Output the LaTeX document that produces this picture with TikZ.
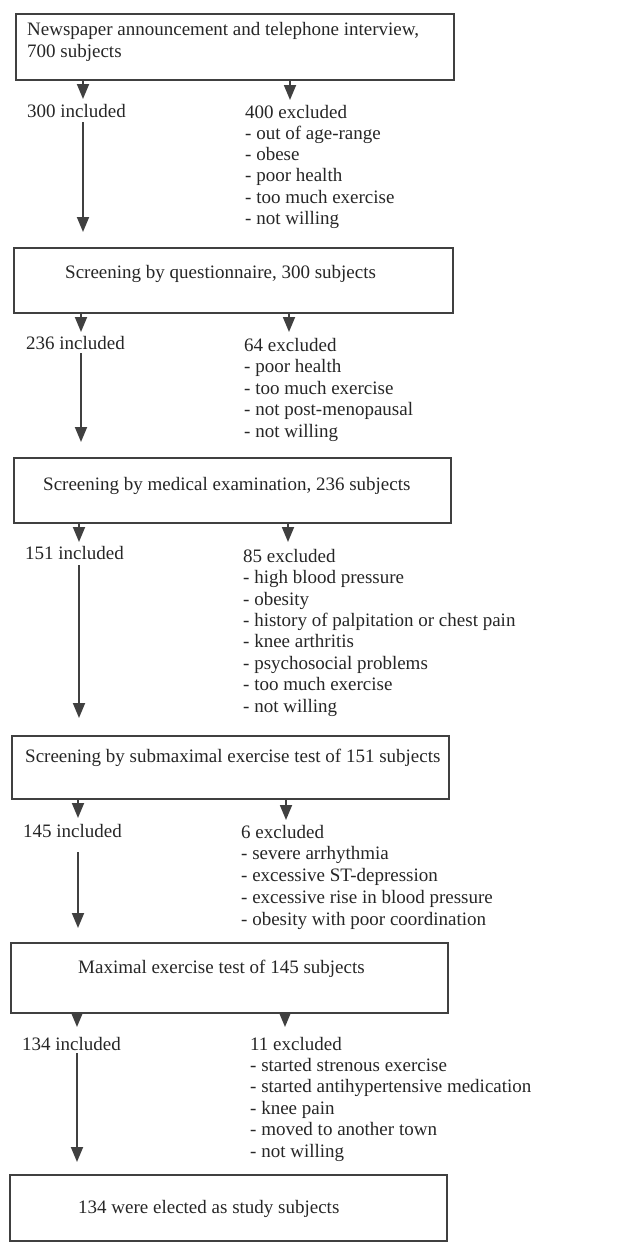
\documentclass[tikz,border=0pt]{standalone}
\usepackage{fontspec}
\setmainfont{Liberation Serif}
\usetikzlibrary{arrows.meta}
\definecolor{ink}{HTML}{262626}
\definecolor{linec}{HTML}{404040}
\tikzset{
  box/.style={draw=linec, line width=1.8pt, rectangle, inner sep=0pt, anchor=north west},
  txt/.style={text=ink, inner sep=0pt, anchor=base west, align=left,
              font=\fontsize{19}{21.5}\selectfont},
  arr/.style={draw=linec, line width=1.8pt, -{Triangle[width=12pt,length=15pt]}}
}
\begin{document}
\begin{tikzpicture}[x=1pt,y=-1pt]
\useasboundingbox (0,0) rectangle (617,1242);
% boxes
\node[box, minimum width=438pt, minimum height=66pt] (b1) at (15,13) {};
\node[box, minimum width=439pt, minimum height=65pt] (b2) at (13,247) {};
\node[box, minimum width=437pt, minimum height=65pt] (b3) at (13,457) {};
\node[box, minimum width=437pt, minimum height=63pt] (b4) at (11,735) {};
\node[box, minimum width=437pt, minimum height=70pt] (b5) at (10,942) {};
\node[box, minimum width=437pt, minimum height=66pt] (b6) at (9,1174) {};
% box texts (multi-line nodes: anchor base = last line)
\node[txt, font=\fontsize{19}{22}\selectfont] (t1) at (27,57) {Newspaper announcement and telephone interview,\\700 subjects};
\node[txt] (t2) at (65,278) {Screening by questionnaire, 300 subjects};
\node[txt] (t3) at (43,490) {Screening by medical examination, 236 subjects};
\node[txt] (t4) at (25,762) {Screening by submaximal exercise test of 151 subjects};
\node[txt] (t5) at (78,973) {Maximal exercise test of 145 subjects};
\node[txt] (t6) at (78,1213) {134 were elected as study subjects};
% included
\node[txt] (i1) at (27,117) {300 included};
\node[txt] (i2) at (26,349) {236 included};
\node[txt] (i3) at (25,559) {151 included};
\node[txt] (i4) at (23,837) {145 included};
\node[txt] (i5) at (22,1050) {134 included};
% excluded
\node[txt, font=\fontsize{19}{21.3}\selectfont] (e1) at (245,224.5) {400 excluded\\- out of age-range\\- obese\\- poor health\\- too much exercise\\- not willing};
\node[txt, font=\fontsize{19}{21.5}\selectfont] (e2) at (244,437) {64 excluded\\- poor health\\- too much exercise\\- not post-menopausal\\- not willing};
\node[txt, font=\fontsize{19}{21.4}\selectfont] (e3) at (243,712) {85 excluded\\- high blood pressure\\- obesity\\- history of palpitation or chest pain\\- knee arthritis\\- psychosocial problems\\- too much exercise\\- not willing};
\node[txt, font=\fontsize{19}{21.75}\selectfont] (e4) at (241,925) {6 excluded\\- severe arrhythmia\\- excessive ST-depression\\- excessive rise in blood pressure\\- obesity with poor coordination};
\node[txt, font=\fontsize{19}{21.4}\selectfont] (e5) at (250,1157) {11 excluded\\- started strenous exercise\\- started antihypertensive medication\\- knee pain\\- moved to another town\\- not willing};
% arrow tips / starts
\coordinate (a1) at (83,99);  \coordinate (c1) at (290,100);
\coordinate (a2) at (81,332); \coordinate (c2) at (289,332);
\coordinate (a3) at (79,542); \coordinate (c3) at (288,542);
\coordinate (a4) at (78,818); \coordinate (c4) at (286,820);
\coordinate (a5) at (77,1027);\coordinate (c5) at (285,1027);
\coordinate (s1) at (83,122); \coordinate (s2) at (81,353);
\coordinate (s3) at (79,565); \coordinate (s4) at (78,852);
\coordinate (s5) at (77,1053);
% short arrows
\draw[arr] (b1.south -| a1) -- (a1);
\draw[arr] (b1.south -| c1) -- (c1);
\draw[arr] (b2.south -| a2) -- (a2);
\draw[arr] (b2.south -| c2) -- (c2);
\draw[arr] (b3.south -| a3) -- (a3);
\draw[arr] (b3.south -| c3) -- (c3);
\draw[arr] (b4.south -| a4) -- (a4);
\draw[arr] (b4.south -| c4) -- (c4);
\draw[arr] (b5.south -| a5) -- (a5);
\draw[arr] (b5.south -| c5) -- (c5);
% long arrows
\draw[arr] (s1) -- ([yshift=15pt]b2.north -| s1);
\draw[arr] (s2) -- ([yshift=15pt]b3.north -| s2);
\draw[arr] (s3) -- ([yshift=17pt]b4.north -| s3);
\draw[arr] (s4) -- ([yshift=14pt]b5.north -| s4);
\draw[arr] (s5) -- ([yshift=12pt]b6.north -| s5);
\end{tikzpicture}
\end{document}
